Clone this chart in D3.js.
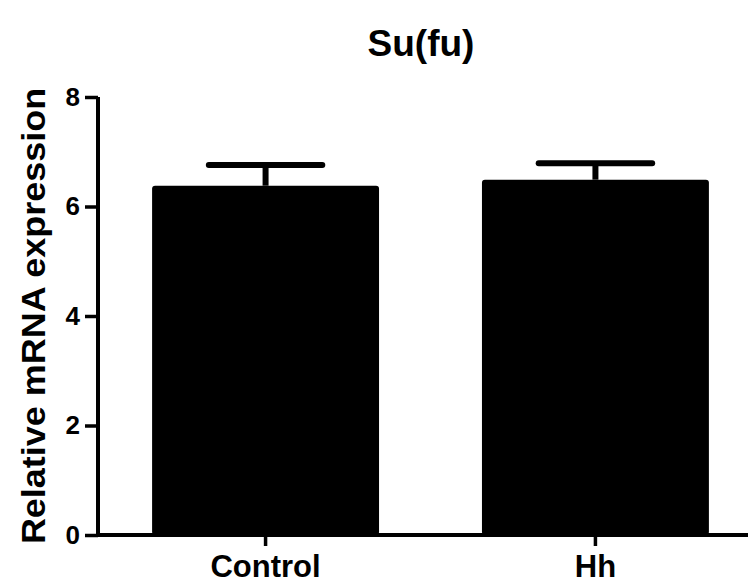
<!DOCTYPE html>
<html>
<head>
<meta charset="utf-8">
<script src="https://cdn.jsdelivr.net/npm/d3@7"></script>
<style>
  body { margin: 0; background: #fff; }
  text { font-family: "Liberation Sans", Arial, sans-serif; font-weight: bold; }
</style>
</head>
<body>
<div id="chart"></div>
<script>
// data
var groups = ["Control", "Hh"];
var means = [6.38, 6.49];
var errors = [0.38, 0.30];
var yTicks = [0, 2, 4, 6, 8];

var w = 748;
var h = 588;

var svg = d3.select("#chart")
            .append("svg")
            .attr("width", w)
            .attr("height", h);

var x = d3.scaleBand()
          .domain(groups)
          .range([98, 763])
          .paddingInner(0.312)
          .paddingOuter(0.164);

var y = d3.scaleLinear()
          .domain([0, 8])
          .range([535, 97]);

// bars
svg.selectAll("rect.bar")
   .data(groups)
   .enter()
   .append("rect")
   .attr("class", "bar")
   .attr("x", function(d) { return x(d); })
   .attr("y", function(d, i) { return y(means[i]); })
   .attr("width", x.bandwidth())
   .attr("height", function(d, i) { return y(0) - y(means[i]); })
   .attr("rx", 3)
   .attr("fill", "#000");

// error bars (upper half only, lower is hidden in the bar)
var capHalf = x.bandwidth() / 4;
groups.forEach(function(g, i) {
    var cx = x(g) + x.bandwidth() / 2;
    svg.append("line")
       .attr("x1", cx).attr("x2", cx)
       .attr("y1", y(means[i])).attr("y2", y(means[i] + errors[i]))
       .attr("stroke", "#000").attr("stroke-width", 6);
    svg.append("line")
       .attr("x1", cx - capHalf).attr("x2", cx + capHalf)
       .attr("y1", y(means[i] + errors[i])).attr("y2", y(means[i] + errors[i]))
       .attr("stroke", "#000").attr("stroke-width", 6)
       .attr("stroke-linecap", "round");
});

// y axis
var yAxis = svg.append("g")
   .attr("transform", "translate(98,0)")
   .call(d3.axisLeft(y).tickValues(yTicks).tickSize(13).tickPadding(5).tickFormat(d3.format("d")));
yAxis.select(".domain").attr("d", "M0," + y(8) + "V" + y(0)).attr("stroke-width", 4);
yAxis.selectAll(".tick line").attr("stroke-width", 3.5);
yAxis.selectAll(".tick text").attr("font-size", 26).attr("fill", "#000");

// x axis
var xAxis = svg.append("g")
   .attr("transform", "translate(0," + y(0) + ")")
   .call(d3.axisBottom(x).tickSize(11).tickPadding(9));
xAxis.select(".domain").attr("d", "M96,0H763").attr("stroke-width", 4);
xAxis.selectAll(".tick line").attr("stroke-width", 3.5);
xAxis.selectAll(".tick text").attr("font-size", 31).attr("fill", "#000");

// title
svg.append("text")
   .attr("x", 421)
   .attr("y", 56)
   .attr("text-anchor", "middle")
   .attr("font-size", 37)
   .text("Su(fu)");

// y axis title
svg.append("text")
   .attr("transform", "translate(45,316) rotate(-90) scale(1.09,1)")
   .attr("text-anchor", "middle")
   .attr("font-size", 33)
   .text("Relative mRNA expression");
</script>
</body>
</html>
